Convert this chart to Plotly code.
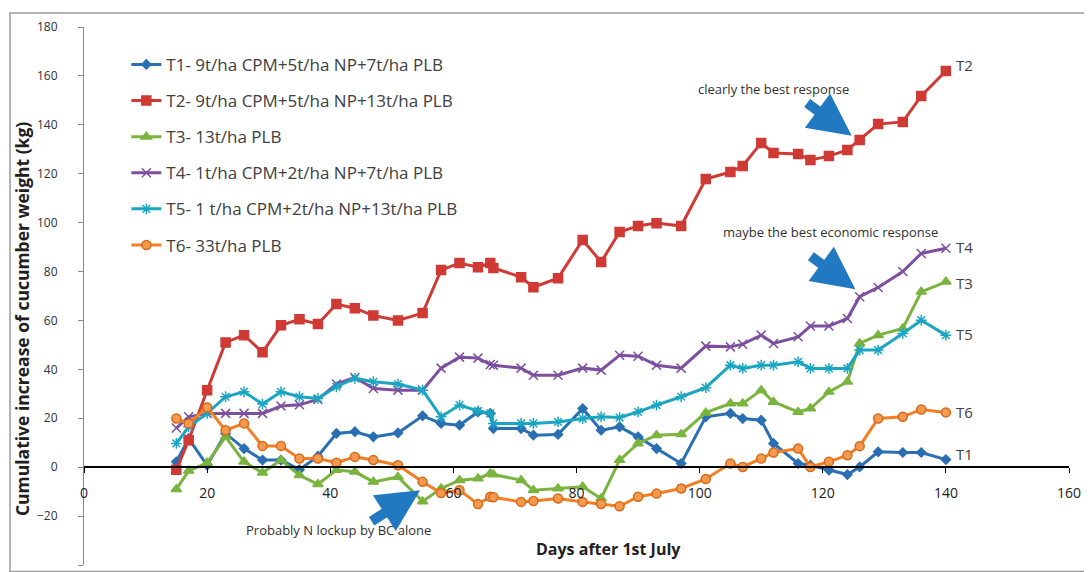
import plotly.graph_objects as go

days = [15, 17, 20, 23, 26, 29, 32, 35, 38, 41, 44, 47, 51, 55, 58, 61, 64, 66, 66.5, 71, 73, 77, 81,
        84, 87, 90, 93, 97, 101, 105, 107, 110, 112, 116, 118, 121, 124, 126, 129, 133, 136, 140]

t1 = [2.2, 11.7, 0.8, 13.8, 7.6, 2.9, 2.9, -1, 4.5, 13.8, 14.5, 12.4, 14, 21, 17.9, 17.2, 22.6, 22, 15.8,
      15.8, 13.1, 13.4, 24, 15.1, 16.5, 12.4, 7.6, 1.5, 20.6, 22, 19.9, 19.2, 9.7, 1.5, 0.8, -1.2, -3,
      0.1, 6.3, 6, 6, 3.1]
t2 = [-1, 11, 31.5, 51, 54, 47, 58, 60.5, 58.5, 66.7, 65, 62, 60, 63, 80.6, 83.5, 81.8, 83.5, 81.5,
      77.7, 73.6, 77.3, 92.9, 83.9, 96.2, 98.6, 99.8, 98.6, 117.8, 120.7, 123.2, 132.6, 128.5, 128.1,
      125.6, 127.2, 129.7, 133.8, 140.3, 141.2, 151.8, 162]
t3 = [-9, -1.5, 1.8, 12.4, 2.2, -2.3, 2.9, -3.3, -7, -1.2, -1.9, -6, -4, -14, -8.7, -5.3, -4.6, -2.6,
      -3, -5.3, -9.4, -8.7, -8, -12.8, 2.9, 9.7, 13.1, 13.5, 22.3, 26, 26, 31.5, 26.7, 22.6, 24, 30.8,
      34.9, 50.6, 54, 56.7, 71.7, 75.8]
t4 = [16, 20.6, 22, 22, 22, 22, 25, 25.5, 27.7, 34, 36.7, 32.2, 31.5, 31.5, 40.5, 45, 44.6, 42, 41.7,
      40.5, 37.6, 37.6, 40.5, 39.7, 45.8, 45.4, 41.7, 40.5, 49.5, 49.2, 50.3, 54, 50.6, 53.3, 57.7,
      57.7, 60.8, 69.7, 73.5, 80, 87.4, 89.5]
t5 = [9.7, 16.5, 22, 28.8, 30.8, 25.8, 30.8, 28.8, 28.1, 32.9, 36.3, 34.9, 34, 31.5, 20.6, 25.4, 23,
      22, 17.9, 17.9, 17.9, 18.5, 19.9, 20.6, 20.3, 22.6, 25.4, 28.8, 32.5, 41.7, 40.4, 41.7, 41.7,
      43.1, 40.4, 40.4, 40.4, 47.9, 47.9, 54.7, 60.1, 54]
t6 = [19.9, 17.9, 24.4, 15.1, 17.9, 8.7, 8.7, 3.5, 3.5, 1.8, 4.2, 2.9, 0.8, -6, -10.6, -9.4, -15.1,
      -12.1, -12.3, -14.2, -13.8, -12.8, -14.2, -15.1, -16, -12.1, -10.8, -8.7, -4.8, 1.5, 0.1, 3.5, 6,
      7.6, 0.1, 2.2, 4.9, 8.6, 19.9, 20.6, 23.6, 22.4]

names = ["T1- 9t/ha CPM+5t/ha NP+7t/ha PLB",
         "T2- 9t/ha CPM+5t/ha NP+13t/ha PLB",
         "T3- 13t/ha PLB",
         "T4- 1t/ha CPM+2t/ha NP+7t/ha PLB",
         "T5- 1 t/ha CPM+2t/ha NP+13t/ha PLB",
         "T6- 33t/ha PLB"]
short = ["T1", "T2", "T3", "T4", "T5", "T6"]
series = [t1, t2, t3, t4, t5, t6]

colors = ["#2A6EB3", "#CF3A35", "#7AB43F", "#7D4F9F", "#1AA6C2", "#F47E24"]
symbols = ["diamond", "square", "triangle-up", "x-thin-open", "asterisk-open", "circle"]
msizes = [7, 9, 9, 9, 9, 9]
label_shift = [6, 6, -1, 1, 1, 0]

FONT = "Open Sans"

fig = go.Figure()
for i, (nm, ys) in enumerate(zip(names, series)):
    marker = dict(symbol=symbols[i], size=msizes[i], color=colors[i],
                  line=dict(color=colors[i], width=1.5))
    if symbols[i] == "circle":
        marker = dict(symbol="circle", size=9, color="#F39A4E", line=dict(color="#D8681A", width=1.5))
    fig.add_trace(go.Scatter(x=days, y=ys, name=nm, mode="lines+markers",
                             line=dict(color=colors[i], width=3), marker=marker,
                             legendgroup=short[i]))
    fig.add_annotation(x=days[-1], y=ys[-1], text=short[i], showarrow=False,
                       xanchor="left", yanchor="middle", xshift=8, yshift=label_shift[i],
                       font=dict(family=FONT, size=15, color="#404040"))

ARROW = "#2179C1"
arrows = [
    dict(x=124.7, y=135.5, ax=-46, ay=-34),
    dict(x=125.3, y=72.8, ax=-46, ay=-34),
    dict(x=54.6, y=-9.4, ax=-50, ay=32),
]
for a in arrows:
    fig.add_annotation(x=a["x"], y=a["y"], ax=a["ax"], ay=a["ay"], text="", showarrow=True,
                       arrowhead=2, arrowsize=0.85, arrowwidth=10, arrowcolor=ARROW, standoff=0)

notes = [
    dict(x=112, y=154.7, text="clearly the best response"),
    dict(x=121.3, y=96.2, text="maybe the best economic response"),
    dict(x=41.4, y=-25.8, text="Probably N lockup by BC alone"),
]
for n in notes:
    fig.add_annotation(x=n["x"], y=n["y"], text=n["text"], showarrow=False,
                       xanchor="center", yanchor="middle",
                       font=dict(family=FONT, size=13, color="#303030"))

fig.add_annotation(x=85.2, y=-33.5, text="<b>Days after 1st July</b>", showarrow=False,
                   xanchor="center", yanchor="middle",
                   font=dict(family=FONT, size=16, color="#202020"))
fig.add_annotation(xref="paper", yref="paper", x=-0.063, y=0.457, textangle=-90,
                   xanchor="center", yanchor="middle",
                   text="<b>Cumulative increase of cucumber weight (kg)</b>", showarrow=False,
                   font=dict(family=FONT, size=17.5, color="#202020"))

fig.add_shape(type="rect", xref="paper", yref="paper", x0=-0.0751, x1=1.0205, y0=-0.012, y1=1.026,
              line=dict(color="#9A9A9A", width=1.5))

fig.update_layout(
    width=1084, height=564,
    margin=dict(l=76, r=23, t=19, b=7),
    paper_bgcolor="white", plot_bgcolor="white",
    font=dict(family=FONT, color="#303030"),
    showlegend=True,
    legend=dict(x=0.043, y=0.963, xanchor="left", yanchor="top",
                font=dict(family=FONT, size=17, color="#404040"),
                tracegroupgap=11, bgcolor="rgba(0,0,0,0)"),
    xaxis=dict(range=[0, 160], tick0=0, dtick=20, anchor="free", position=40 / 220,
               showline=True, linecolor="black", linewidth=2, ticks="outside", ticklen=5,
               tickcolor="black", showgrid=False, zeroline=False, ticklabelstandoff=8,
               tickfont=dict(family=FONT, size=14, color="#202020")),
    yaxis=dict(range=[-40, 180], tick0=-40, dtick=20, showline=True, linecolor="#888888",
               linewidth=1, ticks="outside", ticklen=5, tickcolor="#888888", showgrid=False,
               zeroline=False, ticklabelstandoff=18,
               tickfont=dict(family=FONT, size=12, color="#303030")),
)

fig.write_html("out.html")
